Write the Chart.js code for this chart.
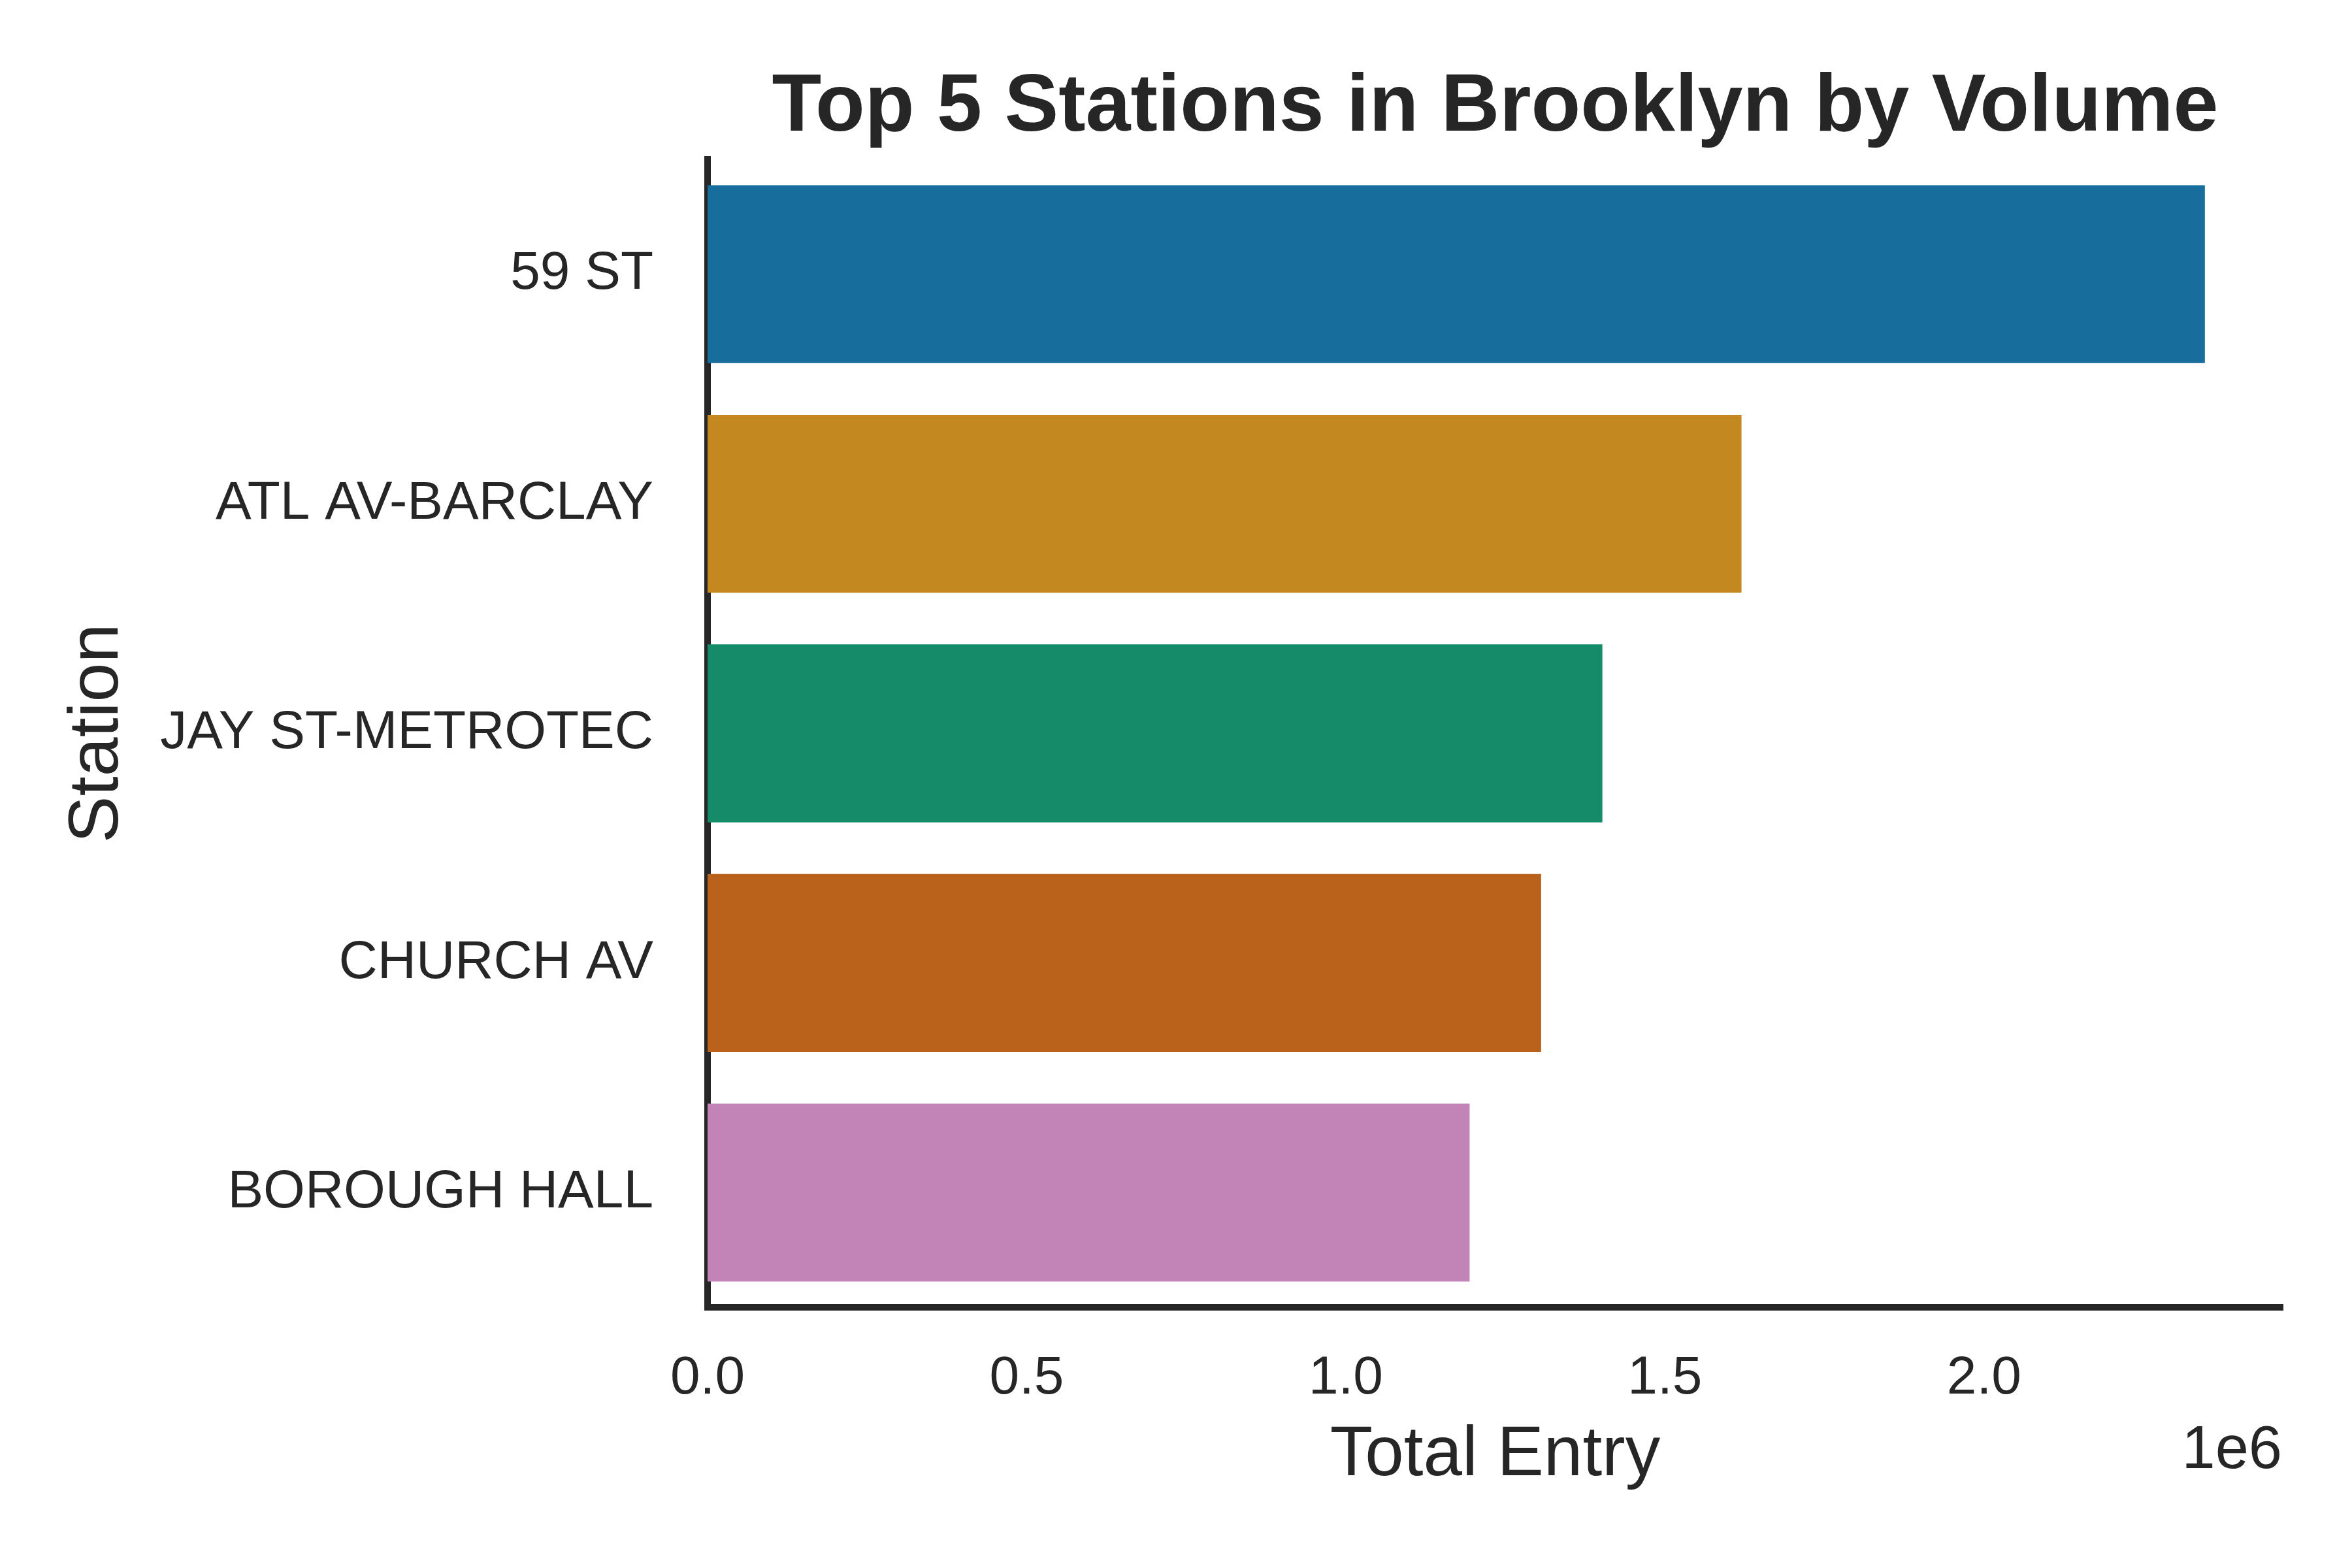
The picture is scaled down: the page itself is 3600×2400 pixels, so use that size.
<!DOCTYPE html>
<html lang="en">
  <head>
    <meta charset="UTF-8" />
    <title>Top 5 Stations in Brooklyn by Volume</title>
    <script src="https://cdn.jsdelivr.net/npm/chart.js"></script>
    <style>
      html, body { margin: 0; padding: 0; background: #fff; }
      #wrap { width: 3600px; height: 2400px; }
    </style>
  </head>
  <body>
    <div id="wrap"><canvas id="chart" width="3600" height="2400"></canvas></div>

    <script>
      /* данные */
      const stations = ["59 ST", "ATL AV-BARCLAY", "JAY ST-METROTEC", "CHURCH AV", "BOROUGH HALL"];
      const totalEntry = [2346000, 1620000, 1402000, 1306000, 1194000];
      const barColors = ["#176d9c", "#c38820", "#168b6a", "#ba611b", "#c283b6"];
      const xTicks = [0, 500000, 1000000, 1500000, 2000000];
      const xMax = 2468000;

      const INK = "#262626";
      const FONT = "'Liberation Sans', Arial, sans-serif";

      /* заголовок над областью графика + множитель 1e6 */
      const extraText = {
        id: "extraText",
        afterDraw(chart) {
          const { ctx, chartArea } = chart;
          ctx.save();
          ctx.fillStyle = INK;
          ctx.textBaseline = "alphabetic";
          ctx.font = `bold 124px ${FONT}`;
          ctx.textAlign = "center";
          ctx.fillText("Top 5 Stations in Brooklyn by Volume", (chartArea.left + chartArea.right) / 2, 200);
          ctx.font = `92px ${FONT}`;
          ctx.textAlign = "right";
          ctx.fillText("1e6", chartArea.right - 1, 2247);
          ctx.restore();
        }
      };

      new Chart(document.getElementById("chart"), {
        type: "bar",
        data: {
          labels: stations,
          datasets: [{
            data: totalEntry,
            backgroundColor: barColors,
            borderWidth: 0,
            barPercentage: 0.775,
            categoryPercentage: 1
          }]
        },
        options: {
          indexAxis: "y",
          responsive: false,
          animation: false,
          devicePixelRatio: 1,
          layout: { padding: { top: 244, right: 106, bottom: 0, left: 0 } },
          plugins: {
            legend: { display: false },
            tooltip: { enabled: false }
          },
          scales: {
            x: {
              min: 0,
              max: xMax,
              afterFit(s) { s.height = 399; },
              afterBuildTicks(s) { s.ticks = xTicks.map(v => ({ value: v })); },
              grid: { display: false, drawTicks: false },
              border: { display: true, color: INK, width: 10 },
              ticks: {
                padding: 60,
                color: INK,
                font: { family: FONT, size: 82 },
                maxRotation: 0,
                callback: v => (v / 1e6).toFixed(1)
              },
              title: {
                display: true,
                text: "Total Entry",
                color: INK,
                font: { family: FONT, size: 107 },
                padding: { top: 0, bottom: 107 }
              }
            },
            y: {
              afterFit(s) { s.width = 1083; },
              grid: { display: false, drawTicks: false },
              border: { display: true, color: INK, width: 10 },
              ticks: {
                padding: 83,
                color: INK,
                font: { family: FONT, size: 82 }
              },
              title: {
                display: true,
                text: "Station",
                color: INK,
                font: { family: FONT, size: 108 },
                padding: { top: 85, bottom: 0 }
              }
            }
          }
        },
        plugins: [extraText]
      });
    </script>
  </body>
</html>
